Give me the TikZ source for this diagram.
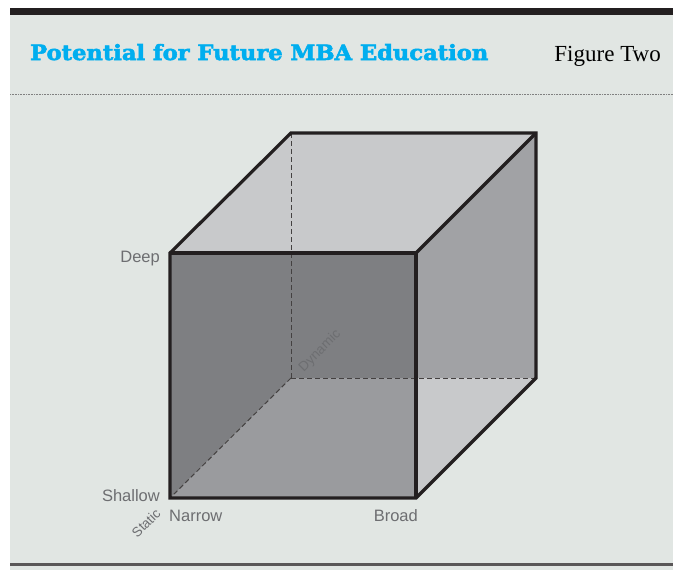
\documentclass[tikz,border=0pt]{standalone}
\usepackage{fontspec}
\usepackage{graphicx}
\setmainfont{Liberation Serif}
\newfontfamily\labelfont{Liberation Sans}
\newfontfamily\titlefont{DejaVu Serif}[UprightFont={* Bold}, UprightFeatures={FakeBold=2.5}]
\definecolor{panelbg}{HTML}{E1E6E3}
\definecolor{barcol}{HTML}{231F20}
\definecolor{topface}{HTML}{C8C9CB}
\definecolor{sideface}{HTML}{A1A2A5}
\definecolor{darkface}{HTML}{7E7F82}
\definecolor{floorface}{HTML}{9A9B9E}
\definecolor{labelcol}{HTML}{6D6E71}
\definecolor{titlecol}{HTML}{00AEEF}
\tikzset{
  edge/.style={draw=barcol, line width=3.2pt, line join=miter},
  hidden/.style={draw=barcol!85, line width=1pt, dash pattern=on 5pt off 3pt},
  axislabel/.style={text=labelcol, font=\labelfont\fontsize{16.5}{18}\selectfont, inner sep=0pt},
  smalllabel/.style={text=labelcol, font=\labelfont\fontsize{13.5}{15}\selectfont, inner sep=0pt, rotate=45},
}
\begin{document}
\begin{tikzpicture}[x=1pt,y=-1pt]
\useasboundingbox (0,0) rectangle (673,570);
\fill[white] (0,0) rectangle (673,570);
\fill[panelbg] (10,8) rectangle (673,570);
\fill[barcol] (10,8) rectangle (673,15);
\draw[gray, line width=0.8pt, dash pattern=on 0.8pt off 0.8pt] (10,94) -- (673,94);
\fill[barcol!75] (10,563) rectangle (673,566);
% title
\node[anchor=base west, inner sep=0pt, text=titlecol] (title) at (30,60)
  {\resizebox{458pt}{16pt}{\titlefont Potential for Future MBA Education}};
\node[anchor=base east, inner sep=0pt, text=black, font=\fontsize{23}{26}\selectfont] (fig) at (661,61) {Figure Two};
% cube corners
\coordinate (ftl) at (170,253);
\coordinate (ftr) at (416,253);
\coordinate (fbl) at (170,498);
\coordinate (fbr) at (416,498);
\coordinate (btl) at (291,133);
\coordinate (btr) at (536,133);
\coordinate (bbl) at (291,378);
\coordinate (bbr) at (536,378);
\coordinate (mid) at (416,378);
% faces
\fill[topface] (ftl) -- (btl) -- (btr) -- (ftr) -- cycle;
\fill[sideface] (ftr) -- (btr) -- (bbr) -- (fbr) -- cycle;
\fill[topface] (mid) -- (bbr) -- (fbr) -- cycle;
\fill[darkface] (ftl) rectangle (fbr);
\fill[floorface] (fbl) -- (bbl) -- (mid) -- (fbr) -- cycle;
% hidden edges
\draw[hidden] (btl) -- (bbl);
\draw[hidden] (bbl) -- (bbr);
\draw[hidden] (bbl) -- (fbl);
% visible edges
\draw[edge] (ftl) -- (btl) -- (btr) -- (bbr) -- (fbr) -- (fbl) -- cycle;
\draw[edge] (ftl) -- (ftr) -- (fbr);
\draw[edge] (ftr) -- (btr);
% labels
\node[axislabel, anchor=base east] (deep) at (160,262) {Deep};
\node[axislabel, anchor=base east] (shallow) at (160,501) {Shallow};
\node[axislabel, anchor=base west] (narrow) at (169,521) {Narrow};
\node[axislabel, anchor=base east] (broad) at (418,521) {Broad};
\node[smalllabel] (dynamic) at (320,351) {Dynamic};
\node[smalllabel] (static) at (146,523) {Static};
\end{tikzpicture}
\end{document}
